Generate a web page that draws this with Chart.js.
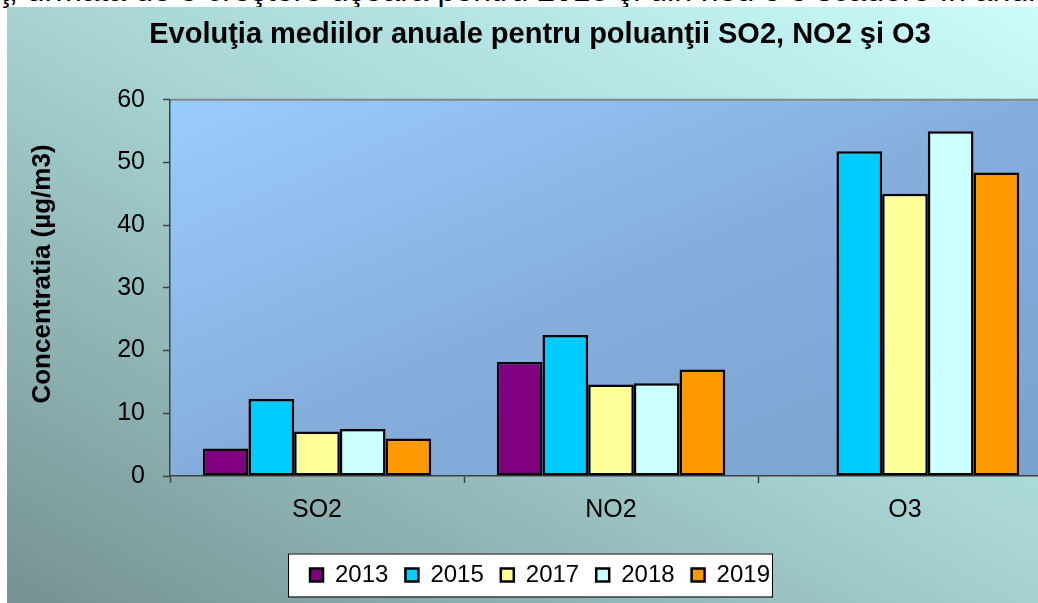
<!DOCTYPE html>
<html>
<head>
<meta charset="utf-8">
<script src="https://cdn.jsdelivr.net/npm/chart.js@4/dist/chart.umd.min.js"></script>
<style>
    html, body { margin: 0; padding: 0; width: 1038px; height: 603px; overflow: hidden; background: #fff; }
    #textAbove { position: absolute; left: 0; top: -28px; font: 32px "Liberation Sans", Arial, sans-serif; line-height: 36px; white-space: nowrap; color: #000; }
    #wrap { position: absolute; left: 7px; top: 7px; width: 1060px; height: 596px; }
</style>
</head>
<body>
<div id="textAbove">ţ, urmată de o creştere uşoară pentru 2018 şi din nou o o scădere în anul</div>
<div id="wrap"><canvas id="chart" width="1060" height="596"></canvas></div>
<script>
const categories = ['SO2', 'NO2', 'O3']
const years = ['2013', '2015', '2017', '2018', '2019']
const v2013 = [4.4, 18.2, null]
const v2015 = [12.3, 22.5, 51.8]
const v2017 = [7.1, 14.6, 45.0]
const v2018 = [7.5, 14.8, 55.0]
const v2019 = [6.0, 17.0, 48.4]
const yMax = 60
const yStep = 10
const yTitle = 'Concentratia (µg/m3)'

const seriesValues = [v2013, v2015, v2017, v2018, v2019]
const barColors = ['#800080', '#00ccff', '#ffff99', '#ccffff', '#ff9900']
const fontFamily = '"Liberation Sans", Arial, sans-serif'

// gradient where the iso-lines run corner to corner (like the office fill)
const cornerGradient = (ctx, x, y, w, h, fromBottom, stops) => {
    const k = 2 * w * h / (w * w + h * h)
    let g
    if (fromBottom) {
        g = ctx.createLinearGradient(x, y + h, x + h * k, y + h - w * k)
    } else {
        g = ctx.createLinearGradient(x, y, x + h * k, y + w * k)
    }
    for (let s of stops) g.addColorStop(s[0], s[1])
    return g
}

const backgrounds = {
    id: 'backgrounds',
    beforeDraw: (chart) => {
        const ctx = chart.ctx
        const area = chart.chartArea
        ctx.save()
        ctx.fillStyle = cornerGradient(ctx, 0, 0, chart.width, chart.height, true,
            [[0, '#769292'], [0.5, '#a6d2d2'], [1, '#ccfcfc']])
        ctx.fillRect(0, 0, chart.width, chart.height)

        ctx.fillStyle = cornerGradient(ctx, area.left, area.top, area.right - area.left, area.bottom - area.top, false,
            [[0, '#99ccff'], [0.5, '#86aedc'], [1, '#7aa2cf']])
        ctx.fillRect(area.left, area.top, area.right - area.left, area.bottom - area.top)

        ctx.strokeStyle = '#878787'
        ctx.lineWidth = 2
        ctx.beginPath()
        ctx.moveTo(area.left, area.top)
        ctx.lineTo(area.right, area.top)
        ctx.stroke()

        // white box behind the legend
        const boxes = chart.legend.legendHitBoxes
        if (boxes && boxes.length) {
            const l = Math.min(...boxes.map(b => b.left)) - 22
            const r = Math.max(...boxes.map(b => b.left + b.width)) + 2
            const cy = boxes[0].top + boxes[0].height / 2
            ctx.fillStyle = '#fff'
            ctx.fillRect(l, cy - 21.5, r - l, 43)
            ctx.strokeStyle = '#000'
            ctx.lineWidth = 1
            ctx.strokeRect(l + 0.5, cy - 21.5 + 0.5, r - l, 43)
        }
        ctx.restore()
    },
    afterDraw: (chart) => {
        // axis title, sits a bit above the middle of the axis like in the original
        const ctx = chart.ctx
        ctx.save()
        ctx.translate(36, 267)
        ctx.rotate(-Math.PI / 2)
        ctx.font = 'bold 26px ' + fontFamily
        ctx.fillStyle = '#000'
        ctx.textAlign = 'center'
        ctx.textBaseline = 'middle'
        ctx.fillText(yTitle, 0, 0)
        ctx.restore()
    }
}

const datasets = years.map((y, i) => ({
    label: y,
    data: seriesValues[i],
    backgroundColor: barColors[i],
    borderColor: '#000',
    borderWidth: 2.5,
    borderSkipped: false,
    categoryPercentage: 0.777,
    barPercentage: 1.0
}))

new Chart(document.getElementById('chart'), {
    type: 'bar',
    data: { labels: categories, datasets: datasets },
    plugins: [backgrounds],
    options: {
        responsive: false,
        animation: false,
        layout: { padding: { left: 21, right: 15, top: 0, bottom: 6 } },
        plugins: {
            title: {
                display: true,
                text: 'Evoluţia mediilor anuale pentru poluanţii SO2, NO2 şi O3',
                color: '#000',
                font: { family: fontFamily, size: 29, weight: 'bold' },
                padding: { top: 11, bottom: 47 }
            },
            legend: {
                position: 'bottom',
                labels: {
                    color: '#000',
                    boxWidth: 13,
                    boxHeight: 13,
                    padding: 17,
                    font: { family: fontFamily, size: 24 }
                }
            },
            tooltip: { enabled: false }
        },
        scales: {
            x: {
                afterFit: (scale) => { scale.height = 70 },
                grid: { offset: true, drawOnChartArea: false, tickLength: 7, tickColor: '#404040', tickWidth: 1.5 },
                border: { color: '#404040', width: 1.5 },
                ticks: { color: '#000', padding: 12, font: { family: fontFamily, size: 25 } }
            },
            y: {
                min: 0,
                max: yMax,
                afterFit: (scale) => { scale.width = 142 },
                grid: { drawOnChartArea: false, tickLength: 7, tickColor: '#404040', tickWidth: 1.5 },
                border: { color: '#404040', width: 1.5 },
                ticks: { stepSize: yStep, color: '#000', padding: 18, font: { family: fontFamily, size: 25 } },
                title: { display: false, text: yTitle }
            }
        }
    }
})
</script>
</body>
</html>
